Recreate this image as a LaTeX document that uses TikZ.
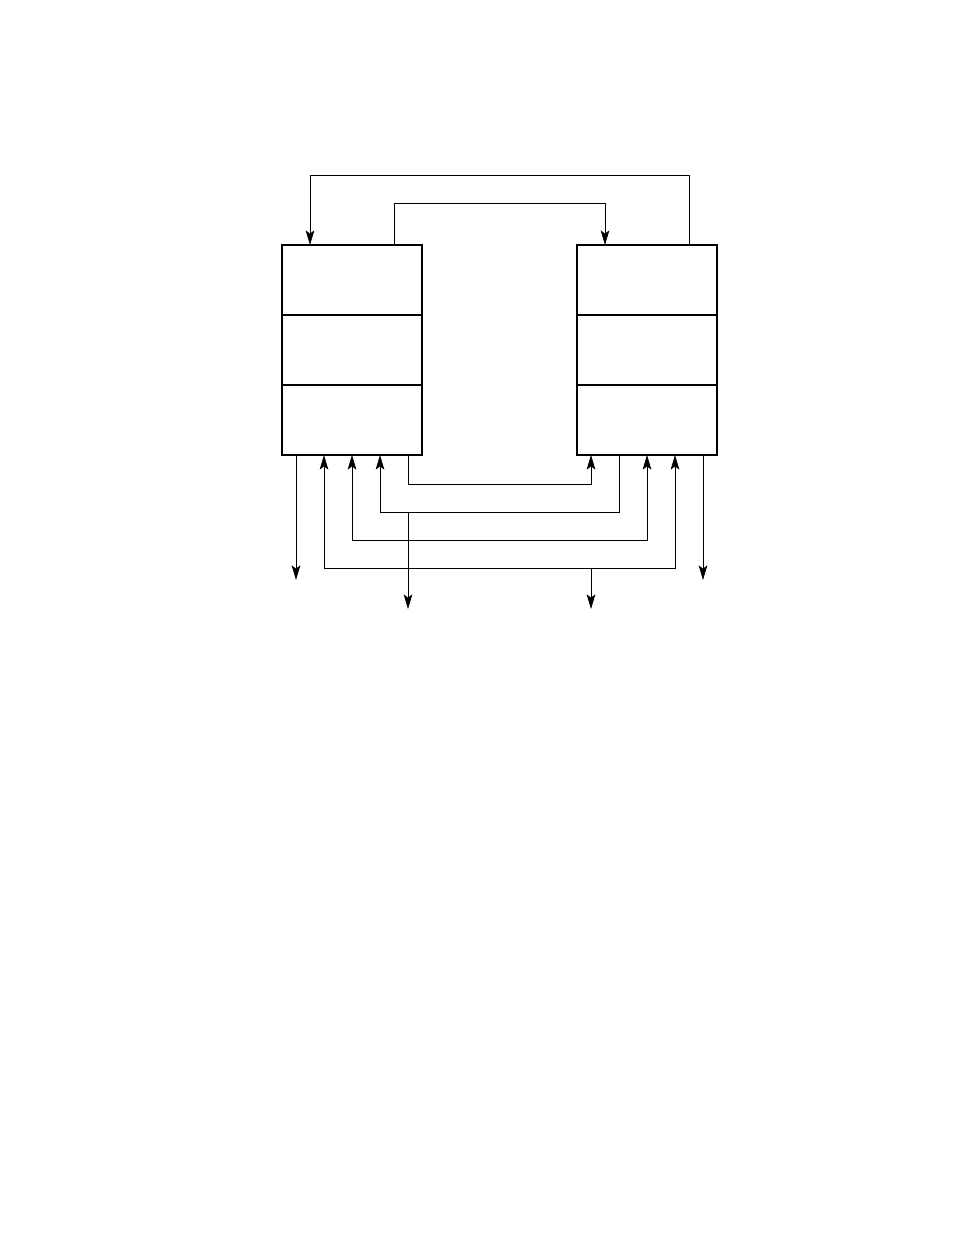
\documentclass[tikz,border=0pt]{standalone}
\usetikzlibrary{calc,arrows.meta}
\begin{document}
\begin{tikzpicture}[x=0.75pt,y=-0.75pt,
  cell/.style={draw,line width=0.8pt,minimum width=105pt,minimum height=52.5pt,inner sep=0pt,outer sep=0pt},
  frame/.style={draw,line width=1.2pt},
  wire/.style={line width=0.5pt},
  arr/.style={wire,-{Stealth[length=11pt,width=6.5pt,inset=2.5pt]}},
  darr/.style={wire,{Stealth[length=11pt,width=6.5pt,inset=2.5pt]}-{Stealth[length=11pt,width=6.5pt,inset=2.5pt]}}]
\useasboundingbox (0,0) rectangle (954,1235);
% left box
\node[cell] (L1) at (352,280) {};
\node[cell] (L2) at (352,350) {};
\node[cell] (L3) at (352,420) {};
\draw[frame] (L1.north west) rectangle (L3.south east);
% right box
\node[cell] (R1) at (647,280) {};
\node[cell] (R2) at (647,350) {};
\node[cell] (R3) at (647,420) {};
\draw[frame] (R1.north west) rectangle (R3.south east);
% junctions
\coordinate (j1) at ($(L3.south west)+(126,57)$);
\coordinate (o1) at ($(j1)+(0,97)$);
\coordinate (j2) at ($(R3.south west)+(14,113)$);
\coordinate (o2) at ($(j2)+(0,41)$);
% top wires
\draw[arr] ($(R1.north west)+(112,0)$) -- ++(0,-70) -| ($(L1.north west)+(28,0)$);
\draw[arr] ($(L1.north west)+(112,0)$) -- ++(0,-42) -| ($(R1.north west)+(28,0)$);
% bottom wires
\draw[arr] ($(L3.south west)+(14,0)$) -- ++(0,125);
\draw[arr] ($(R3.south west)+(126,0)$) -- ++(0,125);
\draw[arr] ($(L3.south west)+(126,0)$) -- ++(0,29) -| ($(R3.south west)+(14,0)$);
\draw[arr] ($(R3.south west)+(42,0)$) -- ++(0,57) -| ($(L3.south west)+(98,0)$);
\draw[darr] ($(R3.south west)+(70,0)$) -- ++(0,85) -| ($(L3.south west)+(70,0)$);
\draw[darr] ($(R3.south west)+(98,0)$) -- ++(0,113) -| ($(L3.south west)+(42,0)$);
\draw[arr] (j1) -- (o1);
\draw[arr] (j2) -- (o2);
\end{tikzpicture}
\end{document}
